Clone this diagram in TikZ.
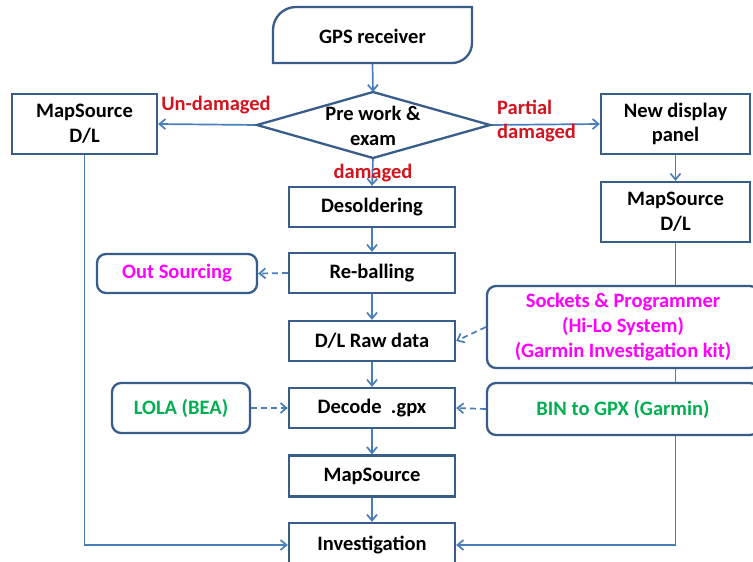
\documentclass[tikz,border=0pt]{standalone}
\usepackage{fontspec}
\setmainfont{Carlito}
\usetikzlibrary{arrows.meta,backgrounds}
\definecolor{boxblue}{RGB}{56,93,138}
\definecolor{arrblue}{RGB}{74,126,187}
\definecolor{lblred}{RGB}{210,20,30}
\definecolor{magtxt}{RGB}{255,0,255}
\definecolor{grntxt}{RGB}{0,176,80}
\tikzset{
  txt/.style={font=\fontsize{20.5}{24.8}\selectfont\bfseries, align=center, inner sep=0pt},
  box/.style={txt, draw=boxblue, line width=2.3pt, fill=white},
  rbox/.style={box, rounded corners=9pt},
  conn/.style={draw=arrblue, line width=1.7pt, -{Straight Barb[length=6pt,width=10pt]}},
  dconn/.style={conn, dash pattern=on 6pt off 4pt},
  lbl/.style={font=\fontsize{20.5}{24.8}\selectfont\bfseries, text=lblred, inner sep=0pt}
}
\begin{document}
\begin{tikzpicture}[x=1pt,y=-1pt]
\useasboundingbox (0,0) rectangle (753,562);
\clip (0,0) rectangle (753,562);
% GPS receiver shape
\draw[boxblue, line width=2.3pt, fill=white]
  (273,63) -- (273,30) .. controls (273,17.3) and (283.3,7) .. (296,7)
  -- (472,7) -- (472,43) .. controls (472,54) and (463,63) .. (452,63) -- cycle;
\node[txt, minimum width=199pt, minimum height=56pt] (gps) at (372.5,36) {GPS receiver};
% decision diamond
\draw[boxblue, line width=2.3pt, fill=white]
  (257,125) -- (373,92) -- (490,125) -- (373,158) -- cycle;
\node[txt] (dlbl) at (373,126) {Pre work \&\\ exam};
\coordinate (dtop) at (373,92);
\coordinate (dleft) at (257,125);
\coordinate (dright) at (490,125);
\coordinate (dbot) at (373,158);
% boxes
\node[box, minimum width=145pt, minimum height=60pt] (msl) at (84.5,124) {MapSource\\ D/L};
\node[box, minimum width=149pt, minimum height=60pt] (ndp) at (675.5,124) {New display\\ panel};
\node[box, minimum width=149pt, minimum height=60pt] (msr) at (675.5,212) {MapSource\\ D/L};
\node[box, minimum width=166pt, minimum height=40pt] (des) at (372,207) {Desoldering};
\node[box, minimum width=166pt, minimum height=40pt] (reb) at (372,273) {Re-balling};
\node[box, minimum width=166pt, minimum height=40pt] (raw) at (372,341) {D/L Raw data};
\node[box, minimum width=166pt, minimum height=40pt] (dec) at (372,408) {Decode\ \ .gpx};
\node[box, minimum width=166pt, minimum height=41pt] (map) at (372,476) {MapSource};
\node[box, minimum width=166pt, minimum height=44pt] (inv) at (372,545) {Investigation};
\node[rbox, text=magtxt, minimum width=160pt, minimum height=39pt] (out) at (177,273.5) {Out Sourcing};
\node[rbox, text=grntxt, minimum width=138pt, minimum height=50pt] (lola) at (181,408) {LOLA (BEA)};
\node[rbox, text=magtxt, minimum width=272pt, minimum height=82pt] (sock) at (623,327) {Sockets \& Programmer\\ (Hi-Lo System)\\ (Garmin Investigation kit)};
\node[rbox, text=grntxt, minimum width=272pt, minimum height=52pt] (bin) at (623,409) {BIN to GPX (Garmin)};
% labels
\node[lbl] (lund) at (216,105) {Un-damaged};
\node[lbl, align=left, anchor=west] (lpar) at (497,121) {Partial\\ damaged};
\node[lbl] (ldam) at (373,173) {damaged};
% connectors
\begin{scope}[on background layer]
\draw[conn] (gps.south) -- (dtop);
\draw[conn] (dleft) -- (msl.east);
\draw[conn] (dright) -- (ndp.west);
\draw[conn] (dbot) -- (des.north);
\draw[conn] (des) -- (reb);
\draw[conn] (reb) -- (raw);
\draw[conn] (raw) -- (dec);
\draw[conn] (dec) -- (map);
\draw[conn] (map) -- (inv);
\draw[conn] (ndp) -- (msr);
\draw[dconn] (reb.west) -- (out.east);
\draw[dconn] (sock.west) -- (raw.east);
\draw[dconn] (lola.east) -- (dec.west);
\draw[dconn] (bin.west) -- (dec.east);
\draw[conn] (msl.south) |- (inv.west);
\draw[conn] (msr.south) |- (inv.east);
\end{scope}
\end{tikzpicture}
\end{document}
